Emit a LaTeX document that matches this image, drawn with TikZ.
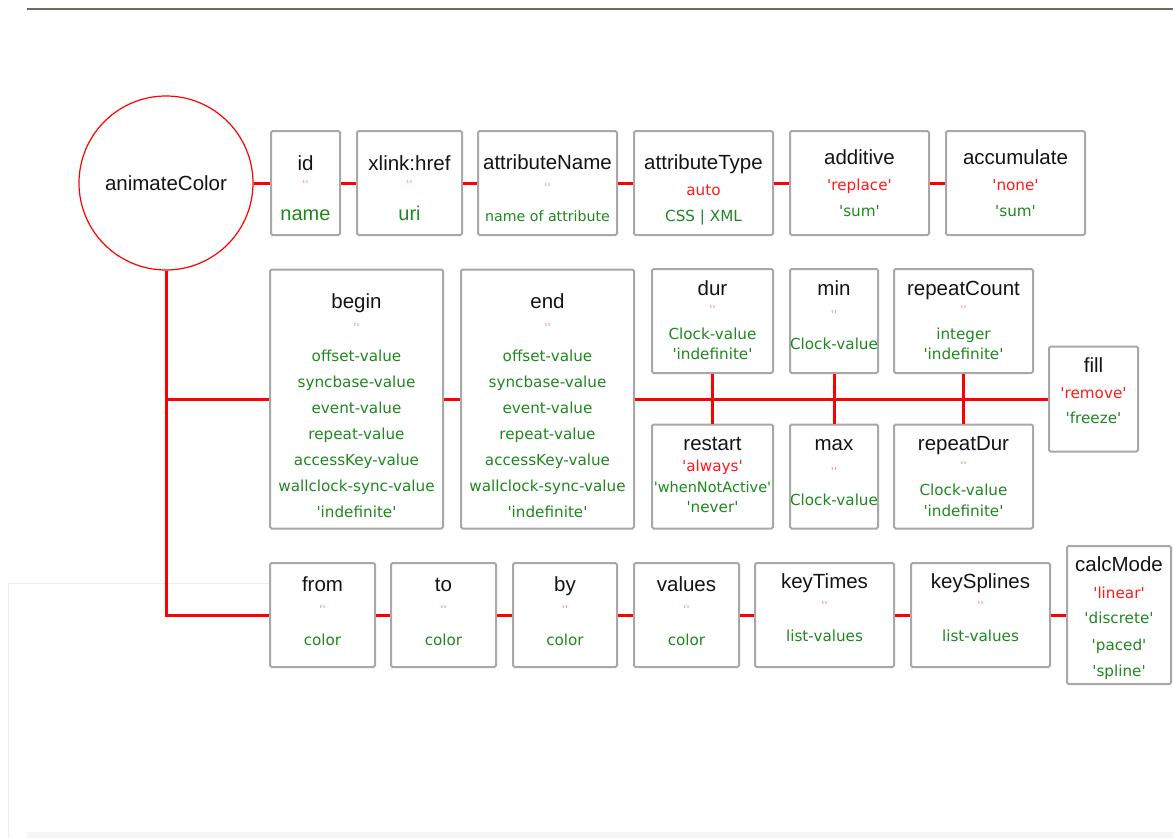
\documentclass[tikz,border=0pt]{standalone}
\usepackage{fontspec}
\setmainfont{Liberation Sans}
\newfontfamily\valfont[Ligatures=TeXOff]{DejaVu Sans}
\usepackage{tikz}
\usetikzlibrary{positioning}

\definecolor{boxgray}{RGB}{168,168,168}
\definecolor{busred}{RGB}{255,0,0}
\definecolor{okgreen}{RGB}{30,135,30}
\definecolor{defred}{RGB}{255,25,25}
\definecolor{nullred}{RGB}{255,135,135}
\definecolor{titleblack}{RGB}{20,20,20}

\newcommand{\valsize}{\valfont\fontsize{15.2}{0}\selectfont\lineskiplimit=-500pt\relax}
\newcommand{\attname}[1]{{\rmfamily\fontsize{20.5}{0}\selectfont\color{titleblack}\vphantom{Ah}#1}}
\newcommand{\okval}[1]{{\color{okgreen}#1}}
\newcommand{\defval}[1]{{\color{defred}#1}}
\newcommand{\bigok}[1]{{\rmfamily\fontsize{20}{0}\selectfont\color{okgreen}#1}}
\newcommand{\noval}{{\fontsize{11}{0}\selectfont\color{nullred}''}}

\tikzset{
  attbox/.style={draw=boxgray, line width=2pt, rounded corners=1.5pt, inner sep=0pt, minimum height=104pt},
  attext/.style={inner sep=0pt, align=center, font=\valsize},
  bus/.style={draw=busred, line width=3pt},
}

\begin{document}
\begin{tikzpicture}[x=1pt, y=-1pt]
\useasboundingbox (0,0) rectangle (1173,838);
% page edges
\draw[line width=1.5pt, draw={rgb,255:red,110;green,110;blue,95}] (27,9) -- (1173,9);
\fill[gray!7] (27,832) rectangle (1173,838);
\draw[gray!15, line width=1pt] (270,583) -- (8,583) -- (8,838);

\node[circle, draw=busred, line width=1.2pt, minimum size=174pt, inner sep=0pt] (anim) at (166,183) {\attname{animateColor}};

% first row
\node[attbox, minimum width=69pt] (id) at (305.5,183) {};
\node[attbox, minimum width=105pt] (href) at (409.5,183) {};
\node[attbox, minimum width=139pt] (attrname) at (547.5,183) {};
\node[attbox, minimum width=139pt] (attrtype) at (703.5,183) {};
\node[attbox, minimum width=139pt] (additive) at (859.5,183) {};
\node[attbox, minimum width=139pt] (accumulate) at (1015.5,183) {};
\node[attext, below=25pt of id.north] (id-txt) {\attname{id}\\[18pt]\noval\\[32pt]\bigok{name}};
\node[attext, below=25pt of href.north] (href-txt) {\attname{xlink:href}\\[18pt]\noval\\[32pt]\bigok{uri}};
\node[attext, below=24pt of attrname.north] (attrname-txt) {\attname{attributeName}\\[22pt]\noval\\[30pt]\okval{\fontsize{14.2}{0}\selectfont name of attribute}};
\node[attext, below=24pt of attrtype.north] (attrtype-txt) {\attname{attributeType}\\[26pt]\defval{auto}\\[26pt]\okval{CSS | XML}};
\node[attext, below=19pt of additive.north] (additive-txt) {\attname{additive}\\[26pt]\defval{'replace'}\\[26pt]\okval{'sum'}};
\node[attext, below=19pt of accumulate.north] (accumulate-txt) {\attname{accumulate}\\[26pt]\defval{'none'}\\[26pt]\okval{'sum'}};

% timing row
\node[attbox, minimum width=173pt, minimum height=259pt] (begin) at (356.5,399) {};
\node[attbox, minimum width=173pt, minimum height=259pt] (end) at (547.5,399) {};
\node[attbox, minimum width=121pt] (dur) at (712.5,321) {};
\node[attbox, minimum width=88pt] (min) at (834,321) {};
\node[attbox, minimum width=139pt] (repcount) at (963.5,321) {};
\node[attbox, minimum width=121pt] (restart) at (712.5,476.5) {};
\node[attbox, minimum width=88pt] (max) at (834,476.5) {};
\node[attbox, minimum width=139pt] (repdur) at (963.5,476.5) {};
\node[attbox, minimum width=89pt, minimum height=105pt] (fill) at (1093.5,399) {};
\node[attext, below=25pt of begin.north] (begin-txt) {\attname{begin}\\[23pt]\noval\\[30pt]\okval{offset-value}\\[26pt]\okval{syncbase-value}\\[26pt]\okval{event-value}\\[26pt]\okval{repeat-value}\\[26pt]\okval{accessKey-value}\\[26pt]\okval{wallclock-sync-value}\\[26pt]\okval{'indefinite'}};
\node[attext, below=25pt of end.north] (end-txt) {\attname{end}\\[23pt]\noval\\[30pt]\okval{offset-value}\\[26pt]\okval{syncbase-value}\\[26pt]\okval{event-value}\\[26pt]\okval{repeat-value}\\[26pt]\okval{accessKey-value}\\[26pt]\okval{wallclock-sync-value}\\[26pt]\okval{'indefinite'}};
\node[attext, below=12pt of dur.north] (dur-txt) {\attname{dur}\\[18pt]\noval\\[26pt]\okval{Clock-value}\\[20pt]\okval{'indefinite'}};
\node[attext, below=12pt of min.north] (min-txt) {\attname{min}\\[23pt]\noval\\[31pt]\okval{Clock-value}};
\node[attext, below=12pt of repcount.north] (repcount-txt) {\attname{repeatCount}\\[18pt]\noval\\[26pt]\okval{integer}\\[20pt]\okval{'indefinite'}};
\node[attext, below=12pt of restart.north] (restart-txt) {\attname{restart}\\[21pt]\defval{'always'}\\[21pt]\okval{\fontsize{14.5}{0}\selectfont'whenNotActive'}\\[20pt]\okval{'never'}};
\node[attext, below=12pt of max.north] (max-txt) {\attname{max}\\[25pt]\noval\\[30pt]\okval{Clock-value}};
\node[attext, below=12pt of repdur.north] (repdur-txt) {\attname{repeatDur}\\[19pt]\noval\\[26pt]\okval{Clock-value}\\[21pt]\okval{'indefinite'}};
\node[attext, below=12pt of fill.north] (fill-txt) {\attname{fill}\\[26pt]\defval{'remove'}\\[25pt]\okval{'freeze'}};

% value row
\node[attbox, minimum width=105pt] (from) at (322.5,615) {};
\node[attbox, minimum width=105pt] (to) at (443.5,615) {};
\node[attbox, minimum width=104pt] (by) at (565,615) {};
\node[attbox, minimum width=105pt] (values) at (686.5,615) {};
\node[attbox, minimum width=139pt] (keytimes) at (824.5,615) {};
\node[attbox, minimum width=139pt] (keysplines) at (980.5,615) {};
\node[attbox, minimum width=104pt, minimum height=138pt] (calcmode) at (1119,615) {};
\node[attext, below=14pt of from.north] (from-txt) {\attname{from}\\[22pt]\noval\\[32pt]\okval{color}};
\node[attext, below=14pt of to.north] (to-txt) {\attname{to}\\[22pt]\noval\\[32pt]\okval{color}};
\node[attext, below=14pt of by.north] (by-txt) {\attname{by}\\[22pt]\noval\\[32pt]\okval{color}};
\node[attext, below=14pt of values.north] (values-txt) {\attname{values}\\[22pt]\noval\\[32pt]\okval{color}};
\node[attext, below=11pt of keytimes.north] (keytimes-txt) {\attname{keyTimes}\\[21pt]\noval\\[32pt]\okval{list-values}};
\node[attext, below=11pt of keysplines.north] (keysplines-txt) {\attname{keySplines}\\[21pt]\noval\\[32pt]\okval{list-values}};
\node[attext, below=11pt of calcmode.north] (calcmode-txt) {\attname{calcMode}\\[27pt]\defval{'linear'}\\[25pt]\okval{'discrete'}\\[27pt]\okval{'paced'}\\[26pt]\okval{'spline'}};

% connectors
\draw[bus] (anim) -- (id);
\draw[bus] (id) -- (href);
\draw[bus] (href) -- (attrname);
\draw[bus] (attrname) -- (attrtype);
\draw[bus] (attrtype) -- (additive);
\draw[bus] (additive) -- (accumulate);
\draw[bus] (anim) |- (begin);
\draw[bus] (anim) |- (from);
\draw[bus] (begin) -- (end);
\draw[bus] (end) -- (fill);
\draw[bus] (dur) -- (restart);
\draw[bus] (min) -- (max);
\draw[bus] (repcount) -- (repdur);
\draw[bus] (from) -- (to);
\draw[bus] (to) -- (by);
\draw[bus] (by) -- (values);
\draw[bus] (values) -- (keytimes);
\draw[bus] (keytimes) -- (keysplines);
\draw[bus] (keysplines) -- (calcmode);
\end{tikzpicture}
\end{document}
